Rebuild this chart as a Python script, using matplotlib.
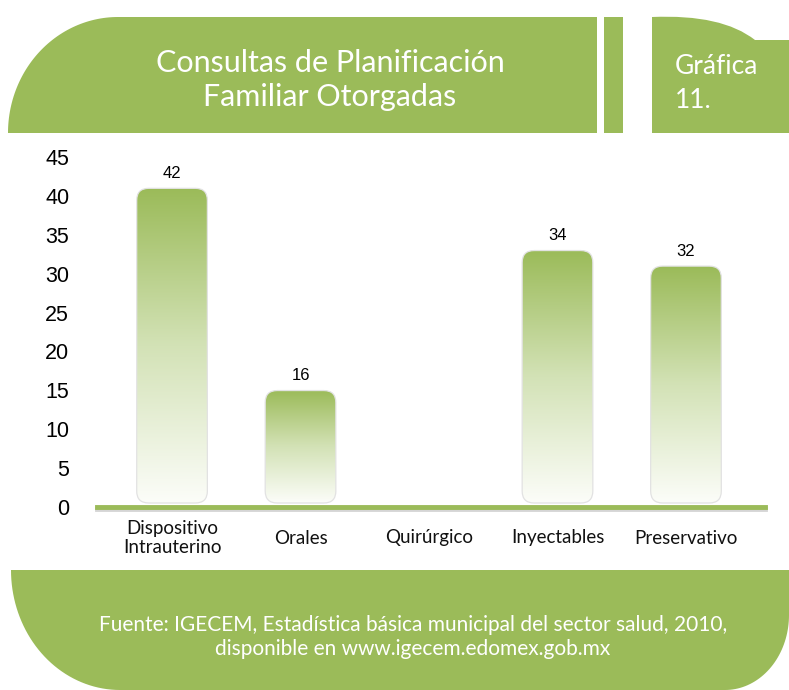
import numpy as np
import matplotlib.pyplot as plt
import matplotlib.patheffects as pe
from matplotlib.patches import FancyBboxPatch, Polygon, Rectangle, PathPatch
from matplotlib.path import Path
from matplotlib.colors import LinearSegmentedColormap

# datos de la grafica
categorias = ['Dispositivo\nIntrauterino', 'Orales', 'Quirúrgico', 'Inyectables', 'Preservativo']
consultas = [42, 16, 0, 34, 32]
ticks_y = [0, 5, 10, 15, 20, 25, 30, 35, 40, 45]

titulo = 'Consultas de Planificación\nFamiliar Otorgadas'
grafica = 'Gráfica\n11.'
fuente = ('Fuente: IGECEM, Estadística básica municipal del sector salud, 2010,\n'
          'disponible en www.igecem.edomex.gob.mx')

verde = '#9BBB59'
W, H = 789, 690

fig = plt.figure(figsize=(W / 100, H / 100), dpi=100)

# capa de fondo en pixeles para los adornos
bg = fig.add_axes([0, 0, 1, 1])
bg.set_xlim(0, W)
bg.set_ylim(H, 0)
bg.axis('off')

# banda del titulo con esquina redonda
t = np.linspace(np.pi, 1.5 * np.pi, 60)
arco = np.column_stack([118 + 110 * np.cos(t), 133 + 116 * np.sin(t)])
banda = np.vstack([arco, [[597, 17], [597, 133]]])
bg.add_patch(Polygon(banda, closed=True, facecolor=verde, edgecolor='none'))
bg.add_patch(Rectangle((604, 17), 19, 116, facecolor=verde, edgecolor='none'))

# caja "Grafica 11."
caja = Path([(652, 133), (652, 17), (722, 14), (755, 40), (789, 40), (789, 133), (652, 133)],
            [Path.MOVETO, Path.LINETO, Path.CURVE3, Path.CURVE3, Path.LINETO, Path.LINETO, Path.CLOSEPOLY])
bg.add_patch(PathPatch(caja, facecolor=verde, edgecolor='none'))

# pie con esquinas redondas
t1 = np.linspace(0, 0.5 * np.pi, 40)
der = np.column_stack([725 + 64 * np.cos(t1), 615 + 75 * np.sin(t1)])
t2 = np.linspace(0.5 * np.pi, np.pi, 40)
izq = np.column_stack([120 + 109 * np.cos(t2), 570 + 120 * np.sin(t2)])
pie = np.vstack([[[11, 570], [789, 570]], der, izq])
bg.add_patch(Polygon(pie, closed=True, facecolor=verde, edgecolor='none'))

bg.text(330, 80, titulo, ha='center', va='center', color='white', fontsize=22,
        family='Lato', linespacing=1.3)
bg.text(675, 83, grafica, ha='left', va='center', color='white', fontsize=19,
        family='Lato', linespacing=1.45)
bg.text(413, 637, fuente, ha='center', va='center', color='white', fontsize=15,
        family='Lato', linespacing=1.2)

# ejes de la grafica
ax = fig.add_axes([97 / W, 1 - 507 / H, (765 - 97) / W, (507 - 157) / H])
xs = np.arange(len(categorias))
ax.set_xlim(-0.584, 4.615)
ax.set_ylim(0, 45)

p0 = ax.transData.transform((0, 0))
p1 = ax.transData.transform((1, 1))
ux = 1 / (p1[0] - p0[0])
uy = 1 / (p1[1] - p0[1])

cmap = LinearSegmentedColormap.from_list('g', ['#FCFDF9', '#D3E2B6', verde])
grad = np.linspace(0, 1, 256).reshape(-1, 1)
ancho = 0.55

for x, v in zip(xs, consultas):
    if v > 0:
        y0 = 4 * uy
        y1 = v - 8 * uy
        caja_b = FancyBboxPatch((x - ancho / 2, y0), ancho, y1 - y0,
                                boxstyle=f'round,pad=0,rounding_size={12 * ux}',
                                mutation_aspect=uy / ux, facecolor='none',
                                edgecolor='#e2e2e2', lw=0.9, zorder=3)
        ax.add_patch(caja_b)
        im = ax.imshow(grad, extent=(x - ancho / 2, x + ancho / 2, y0, y1), origin='lower',
                       cmap=cmap, aspect='auto', zorder=2, interpolation='bilinear')
        im.set_clip_path(caja_b)
        ax.annotate(str(v), xy=(x, v), xytext=(0, 7), textcoords='offset pixels',
                    ha='center', va='center', fontsize=12, family='Liberation Sans', color='black')

for x, c in zip(xs, categorias):
    ax.annotate(c, xy=(x, 0), xytext=(0, -31), textcoords='offset pixels', ha='center',
                va='center', fontsize=13.5, family='Lato', color='#111111', linespacing=1.1,
                annotation_clip=False)

ax.axhline(0, color=verde, lw=3.5, zorder=4, clip_on=False,
           path_effects=[pe.SimpleLineShadow(offset=(0, -1.5), shadow_color='#888888', alpha=0.35),
                         pe.Normal()])

ax.set_xlim(-0.584, 4.615)
ax.set_ylim(0, 45)
ax.set_xticks([])
ax.set_yticks(ticks_y)
ax.set_yticklabels([str(v) for v in ticks_y], family='Liberation Sans')
ax.tick_params(axis='y', length=0, pad=20, labelsize=15.5)
for s in ax.spines.values():
    s.set_visible(False)
ax.patch.set_alpha(0)

fig.savefig('out.png', dpi=100)
